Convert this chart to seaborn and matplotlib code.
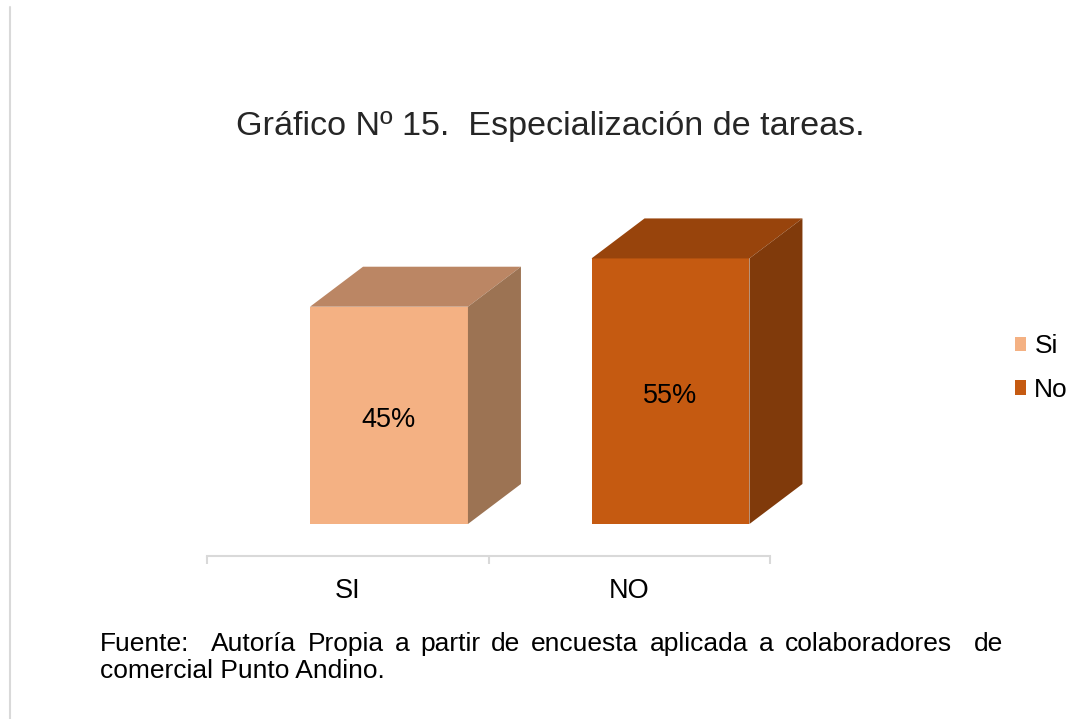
import matplotlib
matplotlib.use("Agg")
import matplotlib.pyplot as plt
import seaborn as sns
import pandas as pd
from matplotlib.patches import Polygon, Patch
from matplotlib.lines import Line2D

# ---- data ----
categories = ["SI", "NO"]
values = [45, 55]
value_labels = ["45%", "55%"]
legend_labels = ["Si", "No"]

# ---- styles ----
front_colors = ["#F4B183", "#C55A11"]
top_colors = ["#BB8664", "#98440C"]
side_colors = ["#9C7353", "#803A0B"]
FONT = "Liberation Sans"

sns.set_theme(style="white")
plt.rcParams["font.family"] = [FONT, "DejaVu Sans"]
plt.rcParams["text.color"] = "black"

W, H = 1083, 719
fig = plt.figure(figsize=(W / 100, H / 100), dpi=100)
fig.patch.set_facecolor("white")

# axes placed in pixel terms
ax_left, ax_right, ax_bottom, ax_top = 207, 770, 556, 200
ax = fig.add_axes([ax_left / W, (H - ax_bottom) / H,
                   (ax_right - ax_left) / W, (ax_bottom - ax_top) / H])

df = pd.DataFrame({"cat": categories, "val": values})
sns.barplot(data=df, x="cat", y="val", hue="cat", palette=front_colors,
            width=0.561, legend=False, ax=ax, linewidth=0, saturation=1)

ax.set_xlim(-0.5, 1.5)
ax.set_ylim(-6.63, 67.1)

# shift bars (3D projection offset)
shift = 0.1465
for p in ax.patches:
    p.set_x(p.get_x() + shift)

fig.canvas.draw()
tr = ax.transData
inv = tr.inverted()
DX, DY = 53, 40  # depth offset in pixels

bars = list(ax.patches)
for i, p in enumerate(bars):
    x0, x1 = p.get_x(), p.get_x() + p.get_width()
    y0, y1 = 0, p.get_height()
    (px0, py0), (px1, py1) = tr.transform([(x0, y0), (x1, y1)])
    top = [(px0, py1), (px1, py1), (px1 + DX, py1 + DY), (px0 + DX, py1 + DY)]
    side = [(px1, py0), (px1 + DX, py0 + DY), (px1 + DX, py1 + DY), (px1, py1)]
    ax.add_patch(Polygon(inv.transform(top), closed=True, facecolor=top_colors[i],
                         edgecolor="none", clip_on=False, zorder=3))
    ax.add_patch(Polygon(inv.transform(side), closed=True, facecolor=side_colors[i],
                         edgecolor="none", clip_on=False, zorder=3))
    ax.text(p.get_x() + p.get_width() / 2, p.get_height() / 2 - 1.0, value_labels[i],
            ha="center", va="center", fontsize=19.5, color="black", zorder=5)

# axes styling
for s in ["left", "right", "top"]:
    ax.spines[s].set_visible(False)
ax.spines["bottom"].set_color("#D9D9D9")
ax.spines["bottom"].set_linewidth(1.5)
ax.set_yticks([])
ax.set_xlabel("")
ax.set_ylabel("")
ax.set_xticks([0, 1])
ax.set_xticklabels(categories, fontsize=19.5, color="black")
ax.tick_params(axis="x", which="major", length=0, pad=16)
ax.set_xticks([-0.5, 0.5, 1.5], minor=True)
ax.tick_params(axis="x", which="minor", length=6, width=1.5, color="#D9D9D9",
               direction="out", bottom=True)

# title
fig.text(550 / W, (H - 127) / H, "Gráfico Nº 15.  Especialización de tareas.",
         ha="center", va="center", fontsize=24.6, color="#262626")

# legend
handles = [Patch(facecolor=c, edgecolor="none") for c in front_colors]
fig.legend(handles, legend_labels, loc="center left",
           bbox_to_anchor=(1004 / W, (H - 368) / H), frameon=False,
           fontsize=19, handlelength=0.45, handleheight=0.45,
           handletextpad=0.3, labelspacing=0.75, borderaxespad=0)

# footer (justified first line; double spaces count twice)
words = ["Fuente:", "Autoría", "Propia", "a", "partir", "de", "encuesta",
         "aplicada", "a", "colaboradores", "de"]
gap_weights = [2, 1, 1, 1, 1, 1, 1, 1, 1, 2]
renderer = fig.canvas.get_renderer()
fs = 19
tmp = []
for w in words:
    t = fig.text(0, 0, w, fontsize=fs, va="baseline")
    tmp.append(t)
widths = [t.get_window_extent(renderer).width for t in tmp]
left_px, right_px = 100, 1003
unit = (right_px - left_px - sum(widths)) / sum(gap_weights)
xpos = left_px
for k, (t, wdt) in enumerate(zip(tmp, widths)):
    t.set_position((xpos / W, (H - 651) / H))
    if k < len(gap_weights):
        xpos += wdt + unit * gap_weights[k]
fig.text(left_px / W, (H - 678) / H, "comercial Punto Andino.", fontsize=fs,
         va="baseline", ha="left")

# left border line
fig.add_artist(Line2D([10 / W, 10 / W], [0, (H - 7) / H], color="#D9D9D9",
                      linewidth=1.5, transform=fig.transFigure))

fig.savefig("out.png", dpi=100, facecolor="white")
